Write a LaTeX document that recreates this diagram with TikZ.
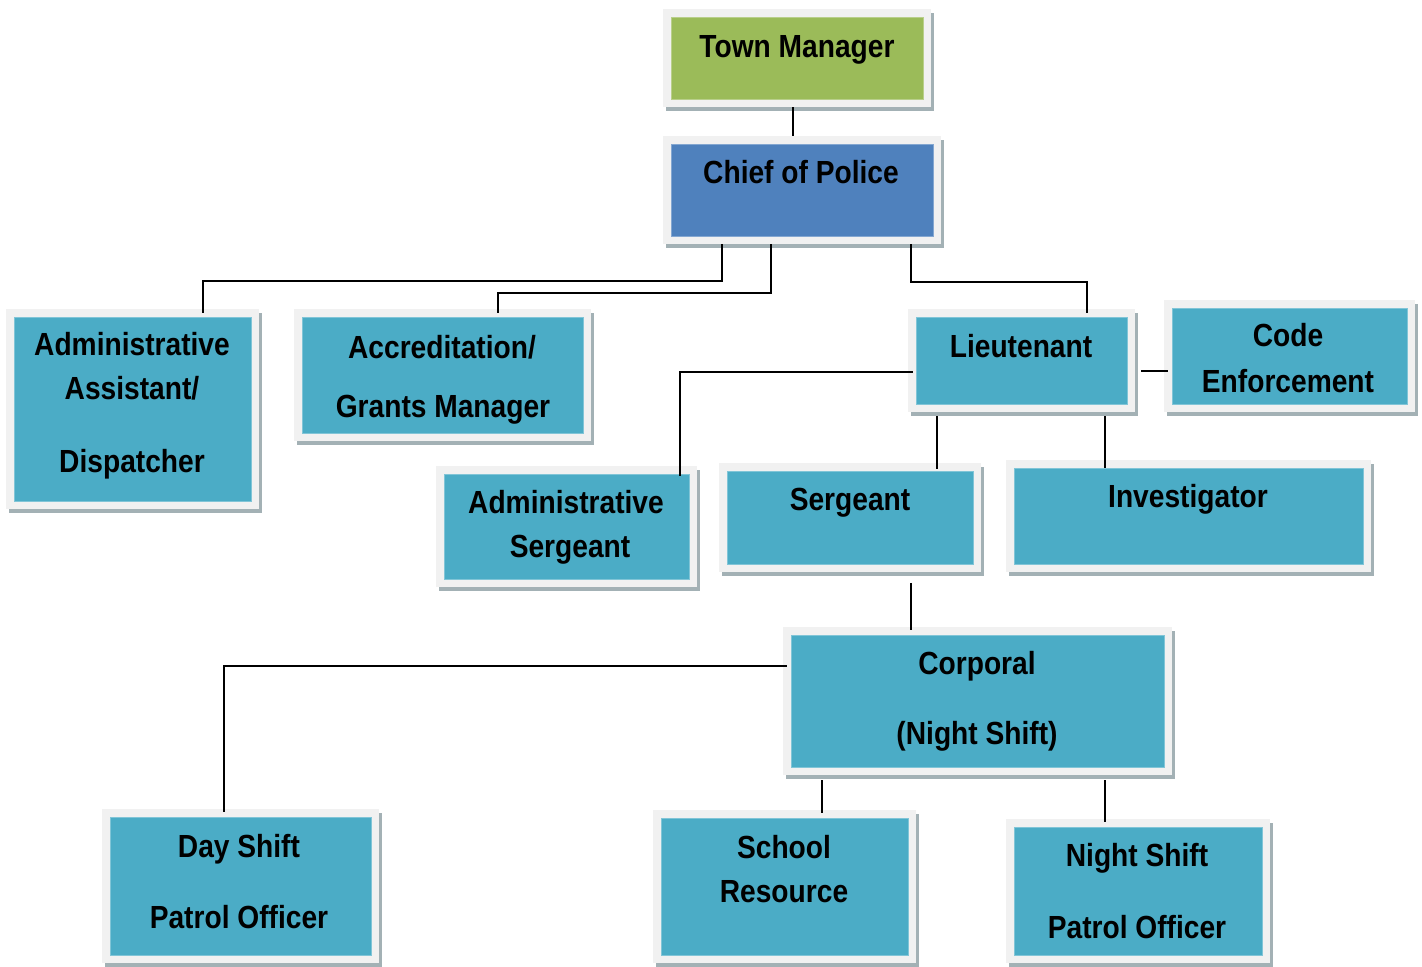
\documentclass[tikz,border=0pt]{standalone}
\usepackage{fontspec}
\setmainfont{Liberation Sans}[FakeStretch=0.88]
\usetikzlibrary{fit}
\definecolor{tmgreen}{HTML}{9BBB59}
\definecolor{cpblue}{HTML}{4F81BD}
\definecolor{teal}{HTML}{4BACC6}
\definecolor{framec}{HTML}{F1F1F1}
\definecolor{shadowc}{HTML}{A3B1B5}
\tikzset{
  conn/.style={draw=black, line width=1.3pt},
  txt/.style={inner sep=0pt, anchor=base, font=\fontsize{24}{28}\selectfont\bfseries},
  innerbox/.style={inner sep=0pt, fill=#1, draw=#1!70!white, line width=0.5pt},
  framebox/.style={inner sep=6pt, fill=framec},
}
% name, x1, y1, x2, y2 (inner rectangle, px), colour
\newcommand{\orgbox}[6]{%
  \fill[shadowc] (#2-5,#3-4) rectangle (#4+11,#5+12);
  \node[framebox, fit={(#2,#3) (#4,#5)}] (#1) {};
  \node[innerbox=#6, fit={(#2,#3) (#4,#5)}] (#1-in) {};
}
\begin{document}
\begin{tikzpicture}[x=0.75pt,y=-0.75pt]
\useasboundingbox[fill=white] (0,0) rectangle (1422,967);

% boxes
\orgbox{tm}{671}{17}{923}{99}{tmgreen}
\orgbox{cp}{671}{144}{933}{236}{cpblue}
\orgbox{aa}{14}{317}{251}{501}{teal}
\orgbox{ac}{302}{317}{583}{433}{teal}
\orgbox{lt}{916}{317}{1127}{404}{teal}
\orgbox{ce}{1172}{308}{1407}{404}{teal}
\orgbox{as}{444}{474}{689}{579}{teal}
\orgbox{sg}{727}{471}{973}{564}{teal}
\orgbox{iv}{1014}{468}{1363}{564}{teal}
\orgbox{cr}{791}{635}{1164}{767}{teal}
\orgbox{ds}{110}{817}{371}{955}{teal}
\orgbox{sr}{661}{818}{908}{955}{teal}
\orgbox{ns}{1014}{827}{1262}{955}{teal}

% connectors
\draw[conn] (tm.south -| 793,0) -- (cp.north -| 793,0);
\draw[conn] (cp.south -| 722,0) -- ++(0,37) -| ([yshift=-3pt]aa.north -| 203,0);
\draw[conn] (cp.south -| 771,0) -- ++(0,49) -| ([yshift=-3pt]ac.north -| 498,0);
\draw[conn] (cp.south -| 911,0) -- ++(0,38) -| ([yshift=-3pt]lt.north -| 1087,0);
\draw[conn, shorten <=4.5pt, shorten >=-3pt] (lt.east |- 0,371) -- (ce.west |- 0,371);
\draw[conn, shorten <=-3.75pt] (lt.west |- 0,372) -| ([yshift=-8pt]as.north -| 680,0);
\draw[conn, shorten <=3pt, shorten >=-4.5pt] (lt.south -| 937,0) -- (sg.north -| 937,0);
\draw[conn, shorten <=3pt, shorten >=-6pt] (lt.south -| 1105,0) -- (iv.north -| 1105,0);
\draw[conn, shorten <=8pt, shorten >=-2.25pt] (sg.south -| 911,0) -- (cr.north -| 911,0);
\draw[conn, shorten <=-3pt] (cr.west |- 0,666) -| ([yshift=-2.25pt]ds.north -| 224,0);
\draw[conn, shorten <=3.75pt, shorten >=-2.25pt] (cr.south -| 822,0) -- (sr.north -| 822,0);
\draw[conn, shorten <=3.75pt, shorten >=-2.25pt] (cr.south -| 1105,0) -- (ns.north -| 1105,0);

% texts
\node[txt] (tm-t) at (797,57) {Town Manager};
\node[txt] (cp-t) at (801,183) {Chief of Police};
\node[txt] (aa-t1) at (132,355) {Administrative};
\node[txt] (aa-t2) at (132,399) {Assistant/};
\node[txt] (aa-t3) at (132,472) {Dispatcher};
\node[txt] (ac-t1) at (442,358) {Accreditation/};
\node[txt] (ac-t2) at (443,417) {Grants Manager};
\node[txt] (lt-t) at (1021,357) {Lieutenant};
\node[txt] (ce-t1) at (1288,346) {Code};
\node[txt] (ce-t2) at (1288,392) {Enforcement};
\node[txt] (as-t1) at (566,513) {Administrative};
\node[txt] (as-t2) at (570,557) {Sergeant};
\node[txt] (sg-t) at (850,510) {Sergeant};
\node[txt] (iv-t) at (1188,507) {Investigator};
\node[txt] (cr-t1) at (977,674) {Corporal};
\node[txt] (cr-t2) at (977,744) {(Night Shift)};
\node[txt] (ds-t1) at (239,857) {Day Shift};
\node[txt] (ds-t2) at (239,928) {Patrol Officer};
\node[txt] (sr-t1) at (784,858) {School};
\node[txt] (sr-t2) at (784,902) {Resource};
\node[txt] (ns-t1) at (1137,866) {Night Shift};
\node[txt] (ns-t2) at (1137,938) {Patrol Officer};
\end{tikzpicture}
\end{document}
